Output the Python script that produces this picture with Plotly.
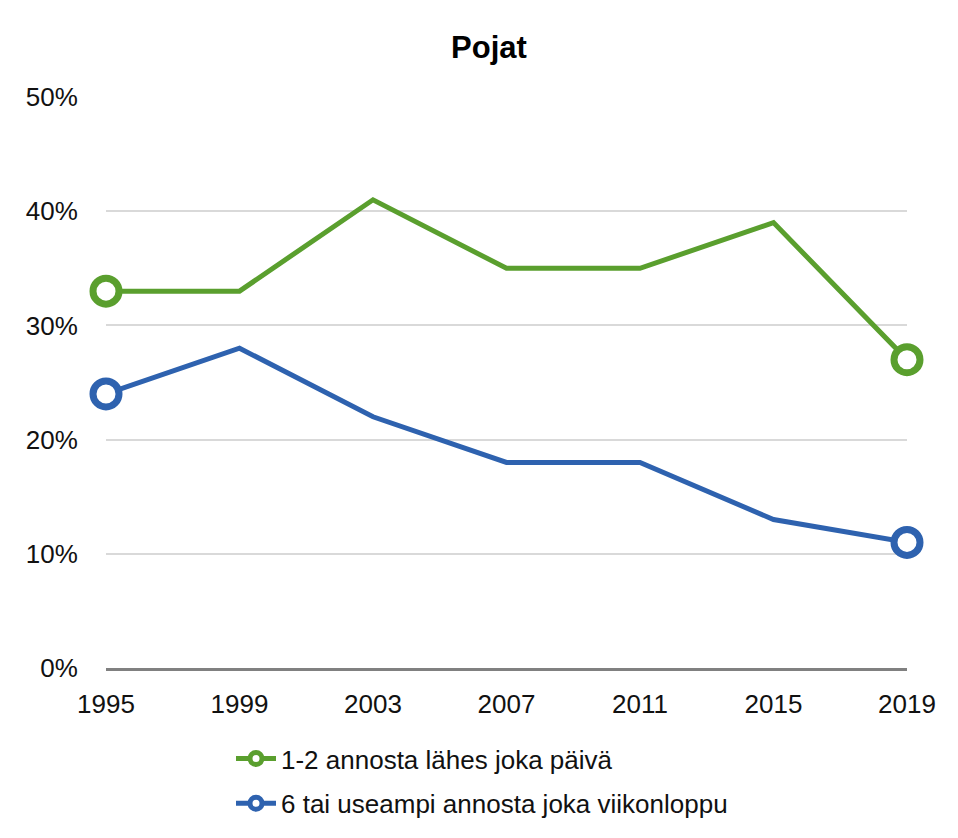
import plotly.graph_objects as go

years = ["1995", "1999", "2003", "2007", "2011", "2015", "2019"]
daily_1_2 = [33, 33, 41, 35, 35, 39, 27]
weekend_6plus = [24, 28, 22, 18, 18, 13, 11]
series_names = ["1-2 annosta lähes joka päivä", "6 tai useampi annosta joka viikonloppu"]
y_ticks = [0, 10, 20, 30, 40, 50]
y_tick_labels = ["0%", "10%", "20%", "30%", "40%", "50%"]

green = "#5A9F2E"
blue = "#2E62AF"
FONT = "Liberation Sans, Arial"

fig = go.Figure()
for k, (vals, name, col) in enumerate([(daily_1_2, series_names[0], green),
                                       (weekend_6plus, series_names[1], blue)]):
    fig.add_trace(go.Scatter(x=years, y=vals, mode="lines", showlegend=False,
                             line=dict(color=col, width=5), hoverinfo="skip"))
    ends_x = [years[0], years[-1]]
    ends_y = [vals[0], vals[-1]]
    fig.add_trace(go.Scatter(x=ends_x, y=ends_y, mode="markers", showlegend=False,
                             marker=dict(size=26, color="white", line=dict(color=col, width=7)),
                             cliponaxis=False))
    fig.add_trace(go.Scatter(x=[None], y=[None], mode="lines+markers", name=name,
                             legendgroup=f"g{k}",
                             line=dict(color=col, width=5),
                             marker=dict(size=12, color="white", line=dict(color=col, width=5))))

fig.update_layout(
    width=950, height=870,
    paper_bgcolor="white", plot_bgcolor="white",
    margin=dict(l=98, r=51, t=89, b=210),
    title=dict(text="<b>Pojat</b>", x=481/950, xanchor="center", y=1-39/870, yanchor="middle",
               font=dict(family=FONT, size=31, color="#000")),
    font=dict(family=FONT, size=26, color="#111"),
    showlegend=True,
    legend=dict(orientation="v", x=(223-98)/801, xanchor="left", y=-0.1175, yanchor="top",
                font=dict(size=26, color="#111"), tracegroupgap=8, itemwidth=40,
                bgcolor="rgba(0,0,0,0)"),
    xaxis=dict(type="category", range=[0, 6], showgrid=False, showline=True,
               linecolor="#808080", linewidth=3, ticks="outside", ticklen=11,
               tickcolor="rgba(0,0,0,0)", zeroline=False,
               tickfont=dict(size=26, color="#111")),
    yaxis=dict(range=[0, 50], tickvals=y_ticks, ticktext=y_tick_labels, showgrid=True,
               gridcolor="#D9D9D9", gridwidth=2, zeroline=False, showline=False,
               ticks="outside", ticklen=22, tickcolor="rgba(0,0,0,0)",
               tickfont=dict(size=26, color="#111")),
)
fig.write_html("out.html")
